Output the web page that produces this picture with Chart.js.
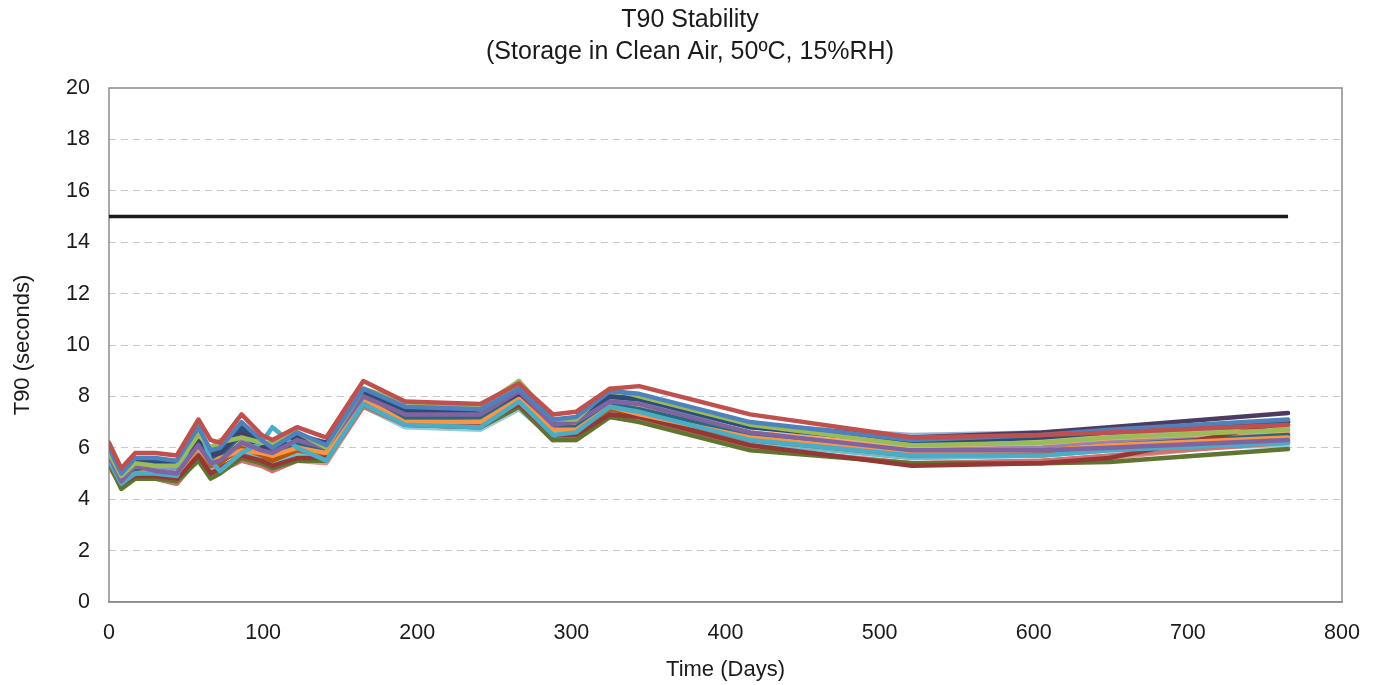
<!DOCTYPE html>
<html>
<head>
<meta charset="utf-8">
<title>T90 Stability</title>
<script src="https://cdn.jsdelivr.net/npm/chart.js@4"></script>
<style>
  body { margin: 0; background: #fff; }
  canvas { display: block; }
</style>
</head>
<body>
<canvas id="t90Chart" width="1380" height="685"></canvas>
<script>
// sampling days (x axis)
const days = [0, 8, 17, 30, 44, 58, 66, 72, 86, 99, 106, 122, 141, 165, 192, 241, 266, 288, 303, 325, 344, 416, 521, 605, 649, 765];

// T90 per sensor, seconds
const s01 = [6.2, 5.2, 5.8, 5.8, 5.7, 7.1, 6.3, 6.2, 7.3, 6.5, 6.3, 6.8, 6.4, 8.6, 7.8, 7.7, 8.5, 7.3, 7.4, 8.3, 8.4, 7.3, 6.4, 6.5, 6.6, 6.9];
const s02 = [6.0, 5.0, 5.6, 5.6, 5.5, 6.8, 5.9, 6.0, 7.0, 6.3, 6.0, 6.6, 6.1, 8.3, 7.6, 7.5, 8.3, 7.1, 7.2, 8.2, 8.1, 7.0, 6.3, 6.5, 6.7, 7.1];
const s03 = [5.8, 4.9, 5.4, 5.3, 5.3, 6.5, 6.0, 6.2, 6.4, 6.2, 6.2, 6.6, 6.0, 8.3, 7.8, 7.5, 8.6, 7.1, 7.1, 8.3, 8.0, 6.9, 6.1, 6.2, 6.4, 6.7];
const s04 = [5.7, 4.7, 5.3, 5.1, 5.0, 6.1, 5.4, 5.5, 6.2, 5.9, 5.8, 6.3, 6.0, 8.0, 7.3, 7.3, 8.2, 6.9, 7.0, 7.8, 7.7, 6.6, 5.9, 5.9, 6.0, 6.3];
const s05 = [5.5, 4.6, 5.0, 5.0, 4.9, 6.9, 5.5, 5.1, 5.8, 6.2, 6.8, 6.0, 5.5, 7.7, 6.9, 6.8, 7.8, 6.5, 6.6, 7.6, 7.4, 6.3, 5.7, 5.7, 5.9, 6.2];
const s06 = [5.6, 4.7, 5.0, 5.1, 5.0, 6.0, 5.4, 5.6, 5.9, 5.8, 5.7, 6.0, 5.8, 7.9, 7.0, 7.0, 7.9, 6.7, 6.7, 7.6, 7.3, 6.4, 5.8, 5.9, 6.1, 6.4];
const s07 = [5.9, 5.1, 5.5, 5.5, 5.4, 6.5, 5.8, 5.9, 6.8, 6.2, 6.0, 6.5, 6.2, 8.2, 7.5, 7.5, 8.2, 7.0, 7.1, 8.0, 7.9, 6.8, 6.2, 6.4, 6.6, 7.0];
const s08 = [5.5, 4.6, 4.9, 4.9, 4.8, 5.7, 5.0, 5.2, 5.7, 5.5, 5.3, 5.6, 5.6, 7.8, 7.0, 6.9, 7.7, 6.5, 6.5, 7.3, 7.2, 6.1, 5.3, 5.4, 5.6, 7.0];
const s09 = [5.4, 4.4, 4.8, 4.8, 4.7, 5.5, 4.8, 5.0, 5.6, 5.4, 5.2, 5.5, 5.5, 7.7, 6.9, 6.8, 7.6, 6.3, 6.3, 7.2, 7.0, 5.9, 5.4, 5.4, 5.45, 5.95];
const s10 = [5.9, 5.0, 5.4, 5.4, 5.3, 6.4, 5.7, 5.8, 6.6, 6.1, 5.9, 6.4, 6.1, 8.1, 7.4, 7.4, 8.1, 7.0, 7.0, 8.0, 7.9, 6.9, 6.4, 6.6, 6.8, 7.35];
const s11 = [5.6, 4.7, 5.1, 5.1, 5.0, 6.3, 5.6, 5.7, 6.5, 6.0, 5.8, 6.2, 5.9, 8.0, 7.2, 7.2, 8.0, 6.8, 6.8, 7.7, 7.5, 6.5, 5.8, 5.9, 6.1, 6.5];
const s12 = [5.5, 4.6, 5.0, 5.0, 4.9, 6.0, 5.3, 5.4, 6.0, 5.7, 5.5, 5.9, 5.7, 7.9, 7.1, 7.0, 7.9, 6.7, 6.7, 7.5, 7.3, 6.3, 5.7, 5.8, 6.0, 6.4];
const s13 = [5.8, 4.9, 5.3, 5.3, 5.2, 6.6, 5.8, 5.9, 6.9, 6.2, 6.0, 6.4, 6.1, 8.1, 7.5, 7.4, 8.3, 7.0, 7.1, 7.9, 7.8, 6.8, 6.4, 6.5, 6.6, 6.9];
const s14 = [5.3, 4.5, 4.8, 4.8, 4.6, 5.6, 5.0, 5.1, 5.5, 5.3, 5.1, 5.5, 5.5, 7.6, 6.9, 6.8, 7.6, 6.3, 6.4, 7.3, 7.1, 6.0, 5.4, 5.5, 5.7, 6.2];
const s15 = [5.7, 4.8, 5.3, 5.3, 5.2, 6.4, 6.0, 6.3, 6.1, 6.0, 6.0, 6.4, 5.9, 8.2, 7.7, 7.6, 8.6, 7.0, 7.1, 8.2, 7.9, 6.9, 6.2, 6.3, 6.5, 6.8];
const s16 = [5.6, 4.7, 5.1, 5.2, 5.0, 6.2, 5.5, 5.6, 6.3, 5.9, 5.7, 6.1, 5.8, 7.9, 7.1, 7.1, 7.9, 6.8, 6.8, 7.6, 7.4, 6.4, 5.9, 6.0, 6.2, 6.5];
const s17 = [5.4, 4.5, 4.9, 4.9, 4.8, 6.1, 5.1, 5.0, 5.9, 5.6, 5.4, 5.8, 5.5, 7.7, 6.9, 6.8, 7.7, 6.5, 6.5, 7.4, 7.2, 6.2, 5.6, 5.7, 5.9, 6.2];
const s18 = [5.7, 4.8, 5.2, 5.2, 4.9, 6.1, 5.5, 5.6, 5.8, 5.8, 5.7, 6.1, 5.9, 8.0, 7.2, 7.3, 8.1, 6.9, 6.9, 7.8, 7.6, 6.6, 6.1, 6.2, 6.3, 6.6];
const s19 = [5.3, 4.5, 4.8, 4.8, 4.6, 5.6, 5.2, 5.3, 5.5, 5.3, 5.1, 5.5, 5.4, 7.6, 6.9, 6.8, 7.6, 6.3, 6.3, 7.2, 7.1, 6.0, 5.4, 5.5, 5.6, 6.3];
const s20 = [5.8, 4.9, 5.4, 5.4, 5.3, 6.5, 5.8, 5.9, 6.6, 6.1, 5.9, 6.3, 6.0, 8.1, 7.4, 7.4, 8.2, 7.0, 7.0, 7.9, 7.8, 6.9, 6.5, 6.6, 6.7, 6.8];
const s21 = [5.6, 4.7, 5.2, 5.2, 5.1, 6.3, 5.7, 5.8, 6.1, 6.0, 5.9, 6.2, 5.9, 8.2, 7.6, 7.6, 8.5, 7.1, 7.1, 8.1, 7.9, 6.9, 6.3, 6.4, 6.5, 6.7];
const s22 = [5.4, 4.6, 4.9, 4.9, 4.7, 5.9, 5.2, 5.2, 5.7, 5.5, 5.3, 5.7, 5.5, 7.6, 6.8, 6.7, 7.5, 6.4, 6.4, 7.3, 7.1, 6.2, 5.6, 5.7, 5.9, 6.1];
const s23 = [5.6, 4.7, 5.1, 5.1, 4.8, 6.0, 5.5, 5.6, 5.8, 5.7, 5.6, 6.0, 5.8, 8.0, 7.1, 7.2, 8.0, 6.8, 6.8, 7.7, 7.5, 6.5, 6.0, 6.1, 6.2, 6.6];
const sensors = [s01, s02, s03, s04, s05, s06, s07, s08, s09, s10, s11, s12,
                 s13, s14, s15, s16, s17, s18, s19, s20, s21, s22, s23];

// 15 s specification limit
const limitDays = [0, 765];
const limitValue = 15;

const yTicks = [0, 2, 4, 6, 8, 10, 12, 14, 16, 18, 20];

// office-style palette
const colors = ['#C0504D', '#4F81BD', '#9BBB59', '#8064A2', '#4BACC6', '#F79646',
                '#2C4D75', '#953735', '#5F7530', '#4D3B62', '#276A7C', '#B65708',
                '#729ACA', '#CD7371', '#AFC97A', '#9983B5', '#6FBDD1', '#F9AB6B',
                '#D99694', '#95B3D7', '#C3D69B', '#93CDDD', '#FAC090'];

const font = 'Liberation Sans, Arial, sans-serif';

const datasets = sensors.map((vals, i) => ({
    label: 'Sensor ' + (i + 1),
    data: days.map((d, j) => ({ x: d, y: vals[j] })),
    borderColor: colors[i],
    borderWidth: 4.5,
    borderJoinStyle: 'round',
    borderCapStyle: 'round',
    pointRadius: 0,
    tension: 0
}));

datasets.push({
    label: 'Limit',
    data: limitDays.map(d => ({ x: d, y: limitValue })),
    borderColor: '#1a1a1a',
    borderWidth: 3.5,
    pointRadius: 0
});

// box around plot area
const plotBorder = {
    id: 'plotBorder',
    beforeDatasetsDraw(chart) {
        const a = chart.chartArea;
        const c = chart.ctx;
        c.save();
        c.strokeStyle = '#8c8c8c';
        c.lineWidth = 1.5;
        c.strokeRect(a.left, a.top, a.right - a.left, a.bottom - a.top);
        c.restore();
    }
};

new Chart(document.getElementById('t90Chart'), {
    type: 'line',
    data: { datasets: datasets },
    plugins: [plotBorder],
    options: {
        responsive: false,
        animation: false,
        layout: { padding: 0 },
        plugins: {
            legend: { display: false },
            tooltip: { enabled: false },
            title: {
                display: true,
                text: ['T90 Stability', '(Storage in Clean Air, 50ºC, 15%RH)'],
                color: '#1a1a1a',
                font: { family: font, size: 25, weight: 'normal', lineHeight: 1.28 },
                padding: { top: 4, bottom: 20 }
            }
        },
        scales: {
            x: {
                type: 'linear',
                min: 0,
                max: 800,
                ticks: { stepSize: 100, color: '#1a1a1a', padding: 18, font: { family: font, size: 21.5 } },
                grid: { display: false, drawTicks: false },
                border: { color: '#8c8c8c', width: 1.5 },
                title: {
                    display: true,
                    text: 'Time (Days)',
                    color: '#1a1a1a',
                    font: { family: font, size: 22 },
                    padding: { top: 0, bottom: 2 }
                },
                afterFit(s) { s.height = 83; }
            },
            y: {
                min: 0,
                max: 20,
                afterBuildTicks(s) { s.ticks = yTicks.map(v => ({ value: v })); },
                ticks: { color: '#1a1a1a', padding: 19, font: { family: font, size: 21.5 } },
                grid: {
                    drawTicks: false,
                    color: ctx => (ctx.tick && (ctx.tick.value === 0 || ctx.tick.value === 20)) ? 'rgba(0,0,0,0)' : '#c8c8c8',
                    lineWidth: 1
                },
                border: { display: false, dash: [7, 5] },
                title: {
                    display: true,
                    text: 'T90 (seconds)',
                    color: '#1a1a1a',
                    font: { family: font, size: 22 },
                    padding: { top: 10, bottom: 0 }
                },
                afterFit(s) { s.width = 109; }
            },
            // empty right margin so the title centres on the page
            yRight: {
                position: 'right',
                min: 0,
                max: 1,
                ticks: { display: false },
                grid: { display: false, drawTicks: false },
                border: { display: false },
                afterFit(s) { s.width = 38; }
            }
        }
    }
});
</script>
</body>
</html>
